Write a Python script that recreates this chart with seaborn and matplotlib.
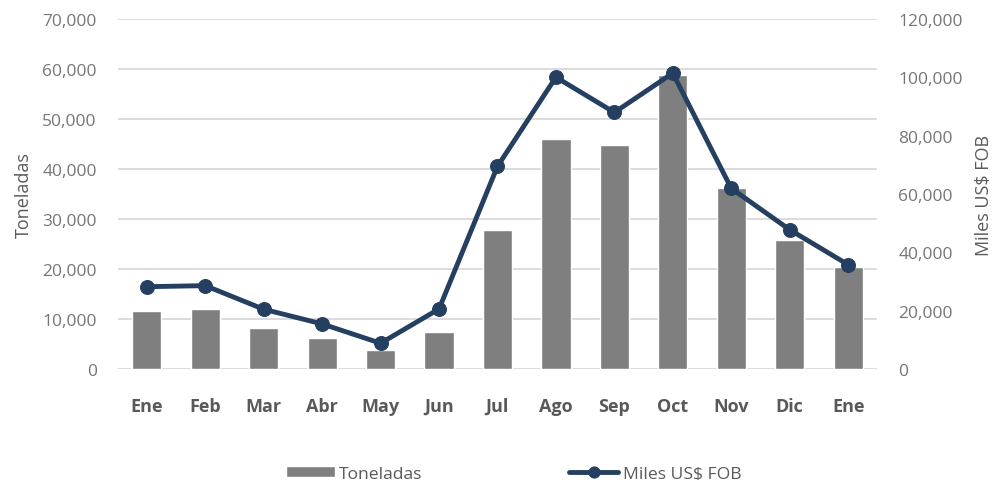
#!/usr/bin/env python3
"""Exportaciones mensuales: toneladas (barras) y miles US$ FOB (linea)."""

import matplotlib

matplotlib.use("Agg")

import matplotlib.pyplot as plt
import pandas as pd
import seaborn as sns
from matplotlib.ticker import FuncFormatter

months = ["Ene", "Feb", "Mar", "Abr", "May", "Jun", "Jul", "Ago", "Sep", "Oct", "Nov", "Dic", "Ene"]
toneladas = [11540, 11930, 8200, 6270, 3800, 7330, 27800, 45930, 44870, 58870, 36130, 25730, 20470]
miles_fob = [28200, 28570, 20470, 15430, 8800, 20570, 69500, 100100, 88000, 101500, 61950, 47760, 35760]

BAR_COLOR = "#7f7f7f"
LINE_COLOR = "#243f60"
TEXT_COLOR = "#595959"
TICK_COLOR = "#767676"
GRID_COLOR = "#d9d9d9"

sns.set_theme(style="white")
plt.rcParams["font.family"] = ["Open Sans", "DejaVu Sans"]

df = pd.DataFrame({"pos": range(len(months)), "month": months, "ton": toneladas, "fob": miles_fob})

fig, ax = plt.subplots(figsize=(10.05, 4.81), dpi=100)
fig.subplots_adjust(left=0.117, right=0.873, top=0.958, bottom=0.231)

sns.barplot(data=df, x="pos", y="ton", color=BAR_COLOR, width=0.5, native_scale=True,
            saturation=1, ax=ax, label="Toneladas", zorder=2)
ax.set_xlim(-0.5, len(months) - 0.5)
ax.set_ylim(0, 70000)
ax.set_yticks(range(0, 70001, 10000))
ax.yaxis.set_major_formatter(FuncFormatter(lambda v, _: f"{int(v):,}"))
ax.set_xticks(df["pos"])
ax.set_xticklabels(months, fontweight="bold", fontsize=13, color=TEXT_COLOR)
ax.tick_params(axis="y", labelsize=12.5, labelcolor=TICK_COLOR, length=0, pad=15)
ax.tick_params(axis="x", length=0, pad=20)
ax.set_xlabel("")
ax.set_ylabel("Toneladas", fontsize=13, color=TEXT_COLOR, labelpad=7)
ax.grid(axis="y", color=GRID_COLOR, linewidth=1.3, zorder=0)
ax.set_axisbelow(True)
for spine in ax.spines.values():
    spine.set_visible(False)

ax2 = ax.twinx()
sns.lineplot(data=df, x="pos", y="fob", color=LINE_COLOR, linewidth=3.5, marker="o",
             markersize=10, markeredgecolor=LINE_COLOR, ax=ax2, label="Miles US$ FOB", legend=False)
ax2.set_ylim(0, 120000)
ax2.set_yticks(range(0, 120001, 20000))
ax2.yaxis.set_major_formatter(FuncFormatter(lambda v, _: f"{int(v):,}"))
ax2.tick_params(axis="y", labelsize=12.5, labelcolor=TICK_COLOR, length=0, pad=15)
ax2.set_ylabel("Miles US$ FOB", fontsize=13, color=TEXT_COLOR, labelpad=9)
ax2.set_xlabel("")
ax2.grid(False)
for spine in ax2.spines.values():
    spine.set_visible(False)

h1, l1 = ax.get_legend_handles_labels()
h2, l2 = ax2.get_legend_handles_labels()
if ax.get_legend() is not None:
    ax.get_legend().remove()
leg = fig.legend(h1 + h2, l1 + l2, loc="lower center", bbox_to_anchor=(0.511, -0.036), ncol=2,
                 frameon=False, fontsize=12.6, labelcolor=TEXT_COLOR, columnspacing=8.4,
                 handlelength=2.8, handletextpad=0.25, handleheight=0.6)
for line in leg.get_lines():
    line.set_markersize(8)

fig.savefig("out.png", dpi=100)
plt.close(fig)
